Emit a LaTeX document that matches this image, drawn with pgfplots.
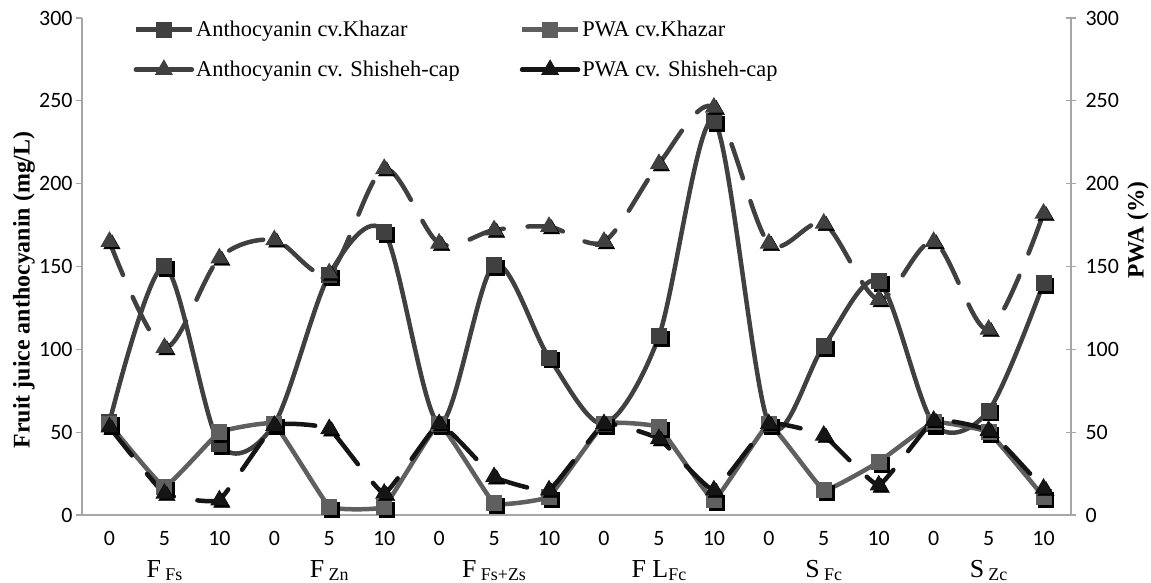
\documentclass[border=0pt]{standalone}
\usepackage{pgfplots}
\pgfplotsset{compat=1.18}
\usepackage{pgfplotstable}
\usepackage{fontspec}
\setmainfont{Liberation Serif}
\newfontfamily\calib{Carlito}
\definecolor{akc}{HTML}{404040}
\definecolor{pkc}{HTML}{5F5F5F}
\definecolor{asc}{HTML}{404040}
\definecolor{psc}{HTML}{151515}
\definecolor{axc}{HTML}{A6A6A6}
\pgfplotstableread{
i ak pk as ps
0 56 55 165 53
1 150 17 101 13
2 43 50 155 9
3 55 55 166 54
4 145 5 146 52
5 171 5 209 13
6 55 55 164 55
7 151 7 172 23
8 95 11 174 15
9 55 55 165 55
10 108 53 212 46
11 238 9 246 15
12 55 55 164 55
13 102 15 176 48
14 141 32 130 18
15 55 56 165 57
16 63 50 112 51
17 140 11 182 16
}\data
\begin{document}
\begin{tikzpicture}
\begin{axis}[name=main, scale only axis, width=989bp, height=497bp,
  xmin=-0.5, xmax=17.5, ymin=0, ymax=300, clip=false,
  axis x line*=bottom, axis y line*=left,
  axis line style={draw=axc, line width=1.3bp},
  xtick={0,...,17},
  xticklabels={0,5,10,0,5,10,0,5,10,0,5,10,0,5,10,0,5,10},
  x tick style={draw=none},
  xticklabel style={yshift=-7bp},
  extra x ticks={-0.5,0.5,...,17.5}, extra x tick labels={},
  extra x tick style={tick align=outside, major tick length=7bp, tick style={draw=axc, line width=1.3bp}},
  ytick={0,50,...,300},
  y tick style={draw=axc, line width=1.3bp},
  tick align=outside, major tick length=6bp,
  ticklabel style={font=\calib\fontsize{22}{22}\selectfont},
  /pgf/number format/assume math mode=true,
  ylabel={\bfseries Fruit juice anthocyanin (mg/L)},
  every axis y label/.style={at={(rel axis cs:0,0.453)}, xshift=-58bp, rotate=90, anchor=center, font=\fontsize{24}{24}\selectfont},
  legend columns=2,
  legend cell align=left,
  legend style={at={(rel axis cs:0.052,0.998)}, anchor=north west, draw=none, fill=none,
    font=\fontsize{22.5}{22.5}\selectfont, row sep=19bp, inner sep=0pt,
    /tikz/column 2/.style={column sep=58bp}},
  legend image code/.code={\draw[mark repeat=2,mark phase=2] plot coordinates {(0bp,0bp) (28bp,0bp) (56bp,0bp)};},
]
% Anthocyanin cv. Khazar
\addplot[forget plot, only marks, mark=square*, mark size=7.5bp, black, mark options={xshift=2.5bp,yshift=-2.5bp}] table[x=i,y=ak]{\data};
\addplot[akc, line width=4.5bp, smooth, tension=0.5, mark=square*, mark size=7.5bp, mark options={solid, line width=1bp}] table[x=i,y=ak]{\data};
\addlegendentry{Anthocyanin cv.Khazar}
% PWA cv. Khazar
\addplot[forget plot, only marks, mark=square*, mark size=7.5bp, black, mark options={xshift=2.5bp,yshift=-2.5bp}] table[x=i,y=pk]{\data};
\addplot[pkc, line width=4.5bp, smooth, tension=0.15, mark=square*, mark size=7.5bp, mark options={solid, line width=1bp}] table[x=i,y=pk]{\data};
\addlegendentry{PWA cv.Khazar}
% Anthocyanin cv. Shisheh-cap
\addplot[forget plot, only marks, mark=triangle*, mark size=9.5bp, black, mark options={xshift=2.5bp,yshift=-2.5bp}] table[x=i,y=as]{\data};
\addplot[asc, line width=4.5bp, smooth, tension=0.5, line cap=round, dash pattern=on 36bp off 24bp, mark=triangle*, mark size=9.5bp, mark options={solid, line width=1bp}, legend image post style={solid}] table[x=i,y=as]{\data};
\addlegendentry{Anthocyanin cv. Shisheh-cap}
% PWA cv. Shisheh-cap
\addplot[forget plot, only marks, mark=triangle*, mark size=9.5bp, black, mark options={xshift=2.5bp,yshift=-2.5bp}] table[x=i,y=ps]{\data};
\addplot[psc, line width=4.5bp, smooth, tension=0.2, line cap=round, dash pattern=on 36bp off 24bp, mark=triangle*, mark size=9.5bp, mark options={solid, line width=1bp}, legend image post style={solid}] table[x=i,y=ps]{\data};
\addlegendentry{PWA cv. Shisheh-cap}
% group labels
\node[anchor=base] at (axis cs:1,0) [yshift=-62bp] {\fontsize{26}{26}\selectfont F\,\raisebox{-0.3ex}{\fontsize{18}{18}\selectfont Fs}};
\node[anchor=base] at (axis cs:4,0) [yshift=-62bp] {\fontsize{26}{26}\selectfont F\,\raisebox{-0.3ex}{\fontsize{18}{18}\selectfont Zn}};
\node[anchor=base] at (axis cs:7,0) [yshift=-62bp] {\fontsize{26}{26}\selectfont F\,\raisebox{-0.3ex}{\fontsize{18}{18}\selectfont Fs+Zs}};
\node[anchor=base] at (axis cs:10,0) [yshift=-62bp] {\fontsize{26}{26}\selectfont F L\raisebox{-0.3ex}{\fontsize{18}{18}\selectfont Fc}};
\node[anchor=base] at (axis cs:13,0) [yshift=-62bp] {\fontsize{26}{26}\selectfont S\,\raisebox{-0.3ex}{\fontsize{18}{18}\selectfont Fc}};
\node[anchor=base] at (axis cs:16,0) [yshift=-62bp] {\fontsize{26}{26}\selectfont S\,\raisebox{-0.3ex}{\fontsize{18}{18}\selectfont Zc}};
\end{axis}
\begin{axis}[scale only axis, width=989bp, height=497bp,
  xmin=-0.5, xmax=17.5, ymin=0, ymax=300,
  axis x line=none, axis y line*=right,
  axis line style={draw=axc, line width=1.3bp},
  ytick={0,50,...,300},
  y tick style={draw=axc, line width=1.3bp},
  tick align=center, major tick length=10bp,
  ticklabel style={font=\calib\fontsize{22}{22}\selectfont},
  yticklabel style={xshift=6bp},
  /pgf/number format/assume math mode=true,
  ylabel={\bfseries PWA (\%)},
  every axis y label/.style={at={(rel axis cs:1,0.573)}, xshift=67bp, rotate=90, anchor=center, font=\fontsize{23.5}{23.5}\selectfont},
]
\addplot[draw=none] coordinates {(0,0)};
\end{axis}
\pgfresetboundingbox
\useasboundingbox ([shift={(-82bp,-68bp)}]main.south west) rectangle ([shift={(80bp,18bp)}]main.north east);
\end{tikzpicture}
\end{document}
